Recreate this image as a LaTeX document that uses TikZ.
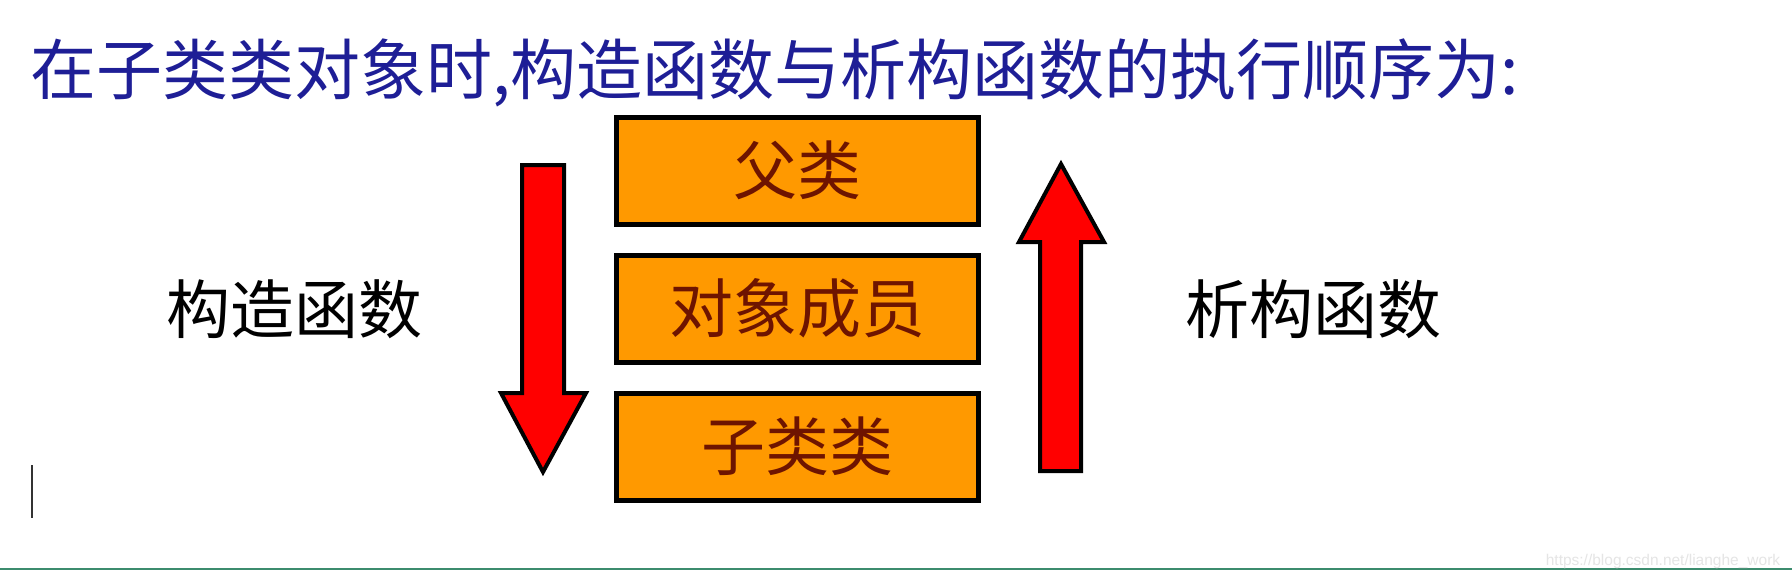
\documentclass[tikz,border=0pt]{standalone}
\usepackage{fontspec}
\newfontfamily\cjk{Noto Sans CJK SC}
\newfontfamily\wm{Liberation Sans}
\definecolor{titleblue}{RGB}{30,30,150}
\definecolor{boxorange}{RGB}{255,153,0}
\definecolor{boxtext}{RGB}{110,20,0}
\definecolor{arrowred}{RGB}{255,0,0}
\definecolor{rulegreen}{RGB}{60,140,110}
\begin{document}
\begin{tikzpicture}[x=1pt,y=-1pt,
  classbox/.style={draw=black, line width=5pt, fill=boxorange, minimum width=362pt, minimum height=107pt, inner sep=0pt, font=\cjk\fontsize{64}{64}\selectfont, text=boxtext},
  sidelabel/.style={inner sep=0pt, font=\cjk\fontsize{64}{64}\selectfont, text=black},
  blockarrow/.style={draw=black, line width=4pt, fill=arrowred, line join=miter}]
\useasboundingbox (0,0) rectangle (1792,579);
\fill[white] (0,0) rectangle (1792,579);
\node[inner sep=0pt, anchor=west, font=\cjk\fontsize{66}{66}\selectfont, text=titleblue] (title) at (30,73) {在子类类对象时,构造函数与析构函数的执行顺序为:};
\node[classbox] (parent) at (797.5,170.5) {父类};
\node[classbox] (member) at (797.5,308.5) {对象成员};
\node[classbox] (child) at (797.5,446.5) {子类类};
\node[sidelabel] (ctor) at (294,309) {构造函数};
\node[sidelabel] (dtor) at (1313,309) {析构函数};
\draw[blockarrow] (522,165) -- (564,165) -- (564,393) -- (586,393) -- (543,472) -- (501,393) -- (522,393) -- cycle;
\draw[blockarrow] (1040,471) -- (1081,471) -- (1081,242) -- (1104,242) -- (1061,164) -- (1019,242) -- (1040,242) -- cycle;
\draw[line width=1.5pt, black!80] (32,465) -- (32,518);
\draw[rulegreen, line width=2pt] (0,569) -- (1792,569);
\node[inner sep=0pt, font=\wm\fontsize{15.5}{15.5}\selectfont, text=black!10] (mark) at (1663,561) {https://blog.csdn.net/lianghe\_work};
\end{tikzpicture}
\end{document}
